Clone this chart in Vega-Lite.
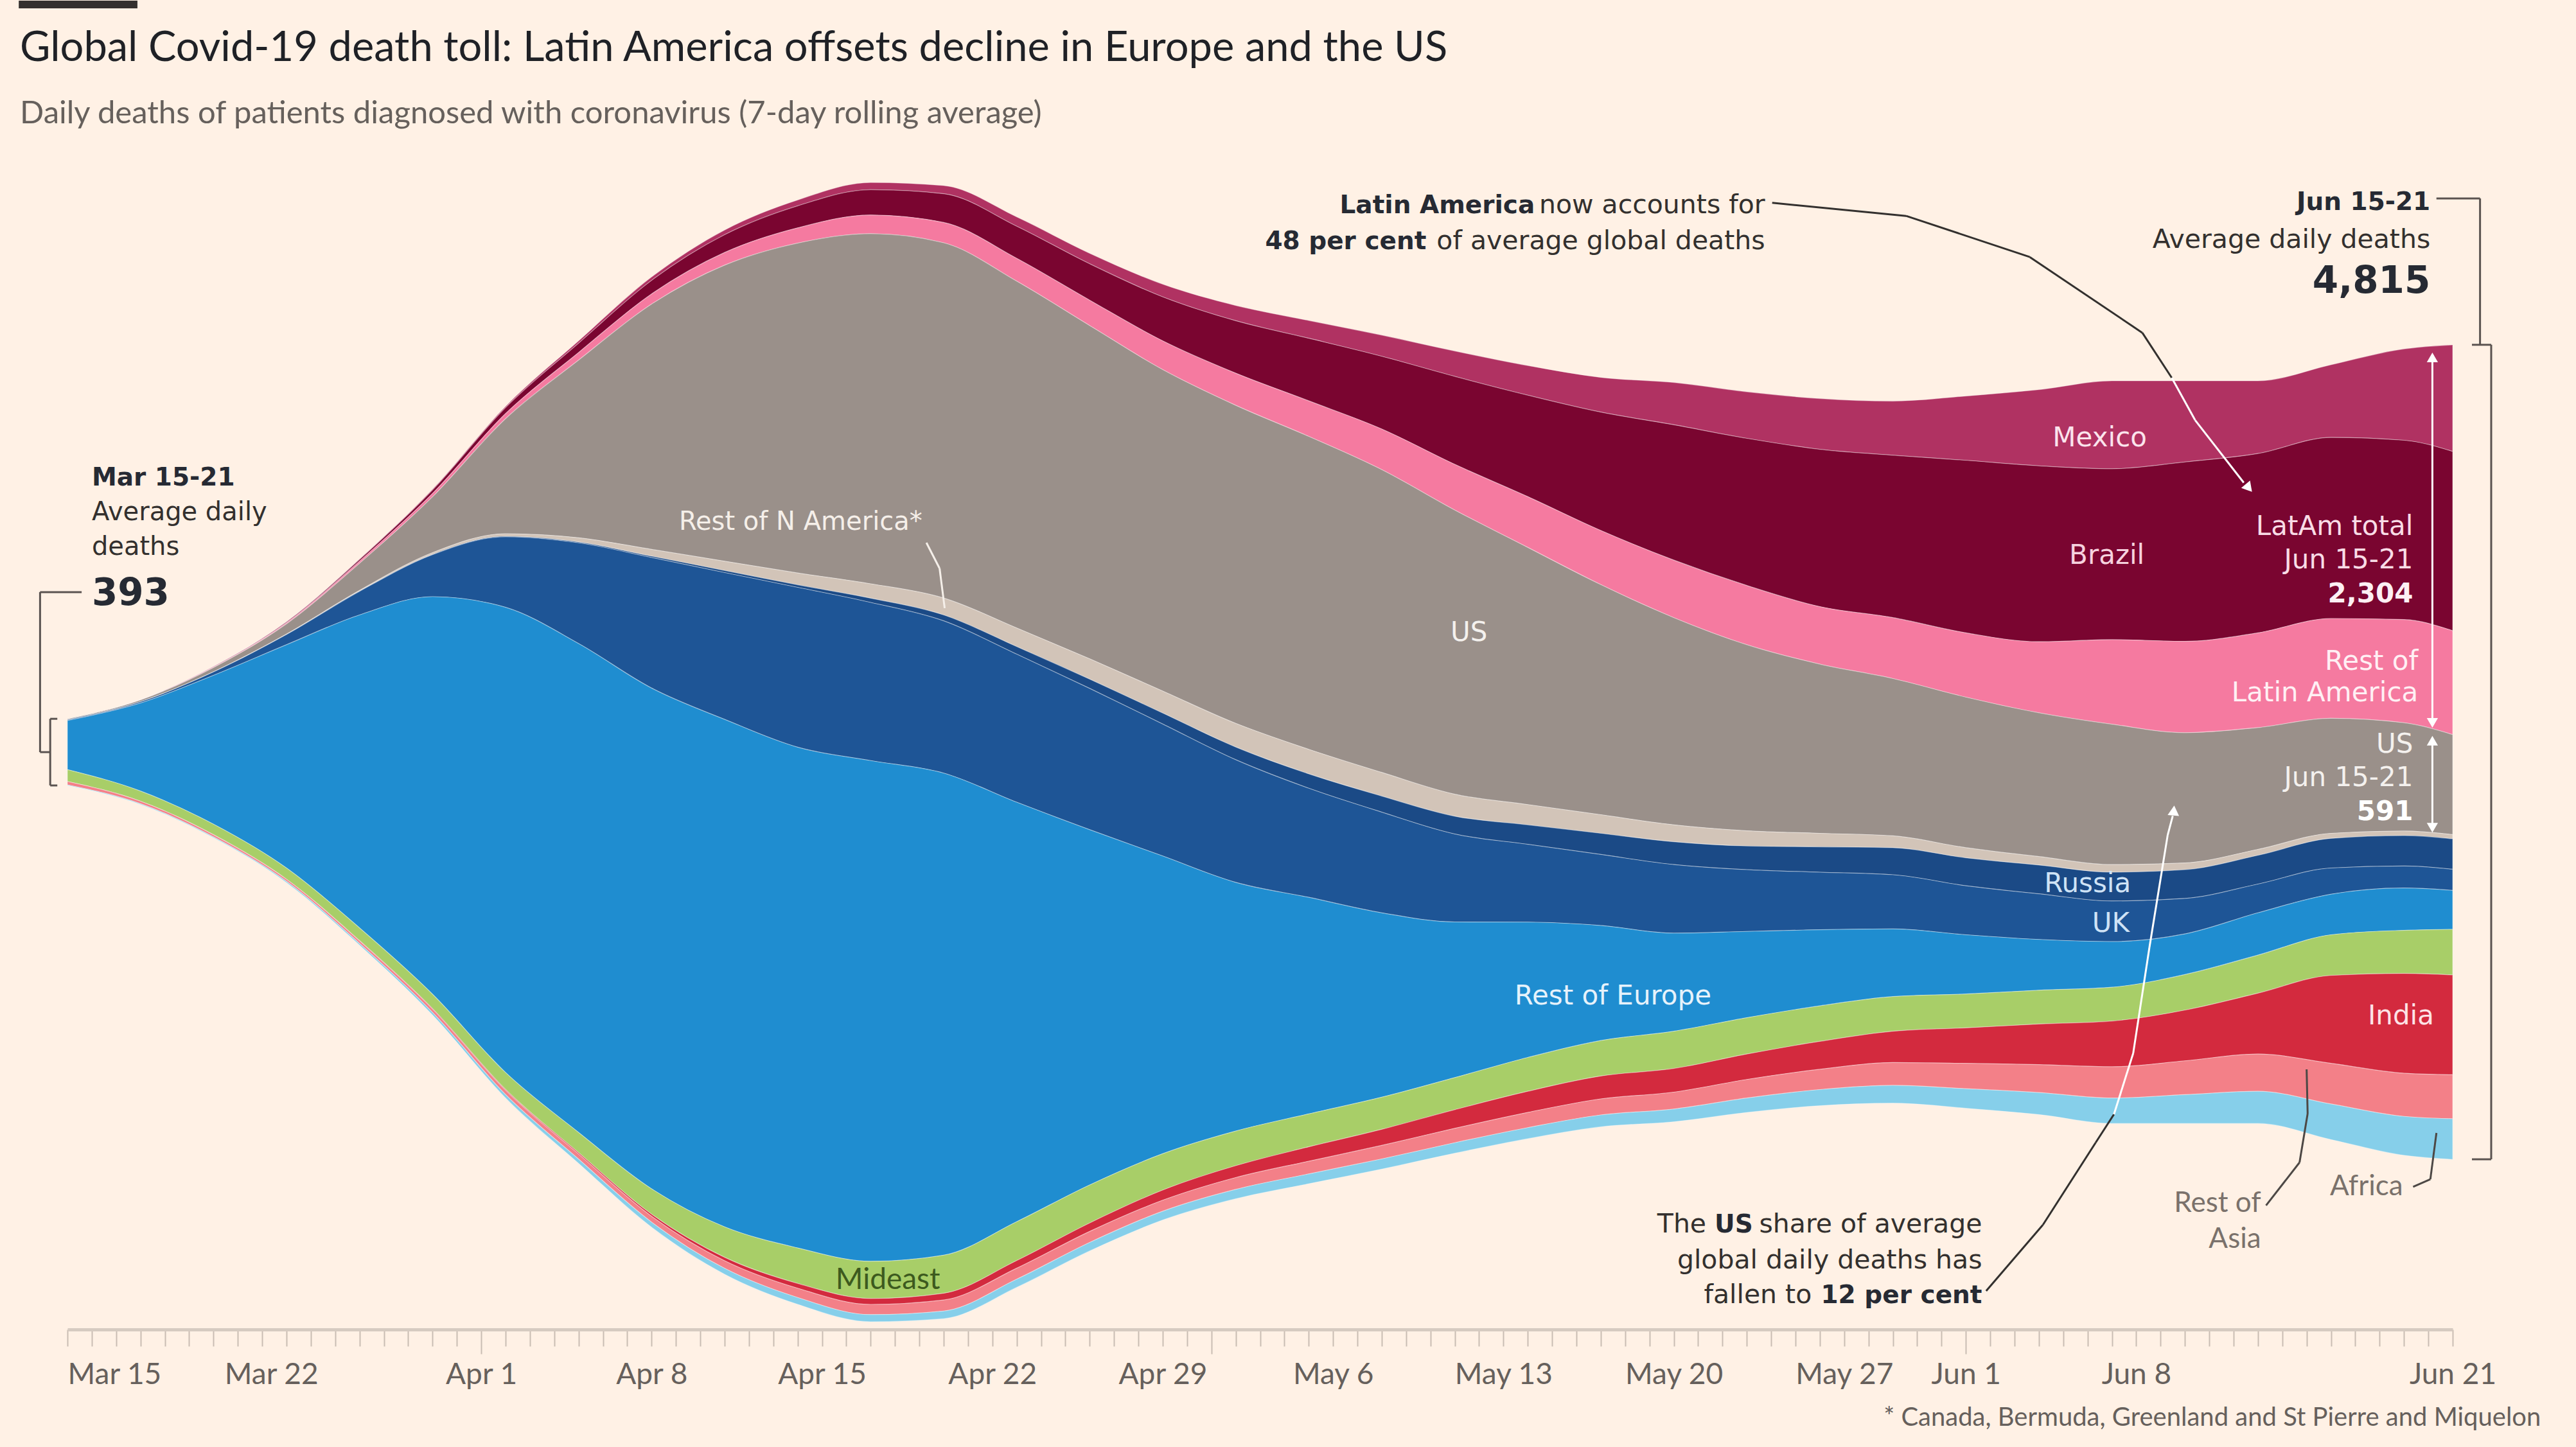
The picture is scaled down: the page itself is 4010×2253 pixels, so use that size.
{
"$schema": "https://vega.github.io/schema/vega-lite/v6.json",
"autosize": {"type": "none"},
"width": 3713,
"height": 1840,
"padding": {"left": 105, "top": 230, "right": 192, "bottom": 183},
"background": "#fff1e5",
"config": {"view": {"stroke": null}, "axisY": {"disable": true}},
"title": {"text": "Global Covid-19 death toll: Latin America offsets decline in Europe and the US", "subtitle": "Daily deaths of patients diagnosed with coronavirus (7-day rolling average)", "anchor": "start", "frame": "group", "dx": -74, "offset": -202, "font": "Lato", "fontSize": 65, "fontWeight": "normal", "color": "#1f2126", "subtitleFont": "Lato", "subtitleFontSize": 49, "subtitleColor": "#66605c", "subtitlePadding": 44},
"data": {"values": [
{"d":"2020-03-15","r":"Mexico","v":0},{"d":"2020-03-18","r":"Mexico","v":0},{"d":"2020-03-21","r":"Mexico","v":1},{"d":"2020-03-24","r":"Mexico","v":2},{"d":"2020-03-27","r":"Mexico","v":3},{"d":"2020-03-30","r":"Mexico","v":5},{"d":"2020-04-02","r":"Mexico","v":8},{"d":"2020-04-05","r":"Mexico","v":14},{"d":"2020-04-08","r":"Mexico","v":20},{"d":"2020-04-11","r":"Mexico","v":28},{"d":"2020-04-14","r":"Mexico","v":35},{"d":"2020-04-17","r":"Mexico","v":42},{"d":"2020-04-20","r":"Mexico","v":48},{"d":"2020-04-23","r":"Mexico","v":55},{"d":"2020-04-26","r":"Mexico","v":62},{"d":"2020-04-29","r":"Mexico","v":75},{"d":"2020-05-02","r":"Mexico","v":90},{"d":"2020-05-05","r":"Mexico","v":105},{"d":"2020-05-08","r":"Mexico","v":125},{"d":"2020-05-11","r":"Mexico","v":150},{"d":"2020-05-14","r":"Mexico","v":175},{"d":"2020-05-17","r":"Mexico","v":205},{"d":"2020-05-20","r":"Mexico","v":250},{"d":"2020-05-23","r":"Mexico","v":275},{"d":"2020-05-26","r":"Mexico","v":300},{"d":"2020-05-29","r":"Mexico","v":320},{"d":"2020-06-01","r":"Mexico","v":380},{"d":"2020-06-04","r":"Mexico","v":450},{"d":"2020-06-07","r":"Mexico","v":520},{"d":"2020-06-10","r":"Mexico","v":480},{"d":"2020-06-13","r":"Mexico","v":430},{"d":"2020-06-16","r":"Mexico","v":430},{"d":"2020-06-19","r":"Mexico","v":540},{"d":"2020-06-21","r":"Mexico","v":630},
{"d":"2020-03-15","r":"Brazil","v":0},{"d":"2020-03-18","r":"Brazil","v":0},{"d":"2020-03-21","r":"Brazil","v":2},{"d":"2020-03-24","r":"Brazil","v":5},{"d":"2020-03-27","r":"Brazil","v":10},{"d":"2020-03-30","r":"Brazil","v":20},{"d":"2020-04-02","r":"Brazil","v":35},{"d":"2020-04-05","r":"Brazil","v":55},{"d":"2020-04-08","r":"Brazil","v":80},{"d":"2020-04-11","r":"Brazil","v":105},{"d":"2020-04-14","r":"Brazil","v":130},{"d":"2020-04-17","r":"Brazil","v":150},{"d":"2020-04-20","r":"Brazil","v":170},{"d":"2020-04-23","r":"Brazil","v":190},{"d":"2020-04-26","r":"Brazil","v":215},{"d":"2020-04-29","r":"Brazil","v":260},{"d":"2020-05-02","r":"Brazil","v":310},{"d":"2020-05-05","r":"Brazil","v":370},{"d":"2020-05-08","r":"Brazil","v":430},{"d":"2020-05-11","r":"Brazil","v":520},{"d":"2020-05-14","r":"Brazil","v":600},{"d":"2020-05-17","r":"Brazil","v":700},{"d":"2020-05-20","r":"Brazil","v":800},{"d":"2020-05-23","r":"Brazil","v":870},{"d":"2020-05-26","r":"Brazil","v":930},{"d":"2020-05-29","r":"Brazil","v":960},{"d":"2020-06-01","r":"Brazil","v":1020},{"d":"2020-06-04","r":"Brazil","v":1040},{"d":"2020-06-07","r":"Brazil","v":1010},{"d":"2020-06-10","r":"Brazil","v":1060},{"d":"2020-06-13","r":"Brazil","v":1060},{"d":"2020-06-16","r":"Brazil","v":1070},{"d":"2020-06-19","r":"Brazil","v":1060},{"d":"2020-06-21","r":"Brazil","v":1060},
{"d":"2020-03-15","r":"Rest of Latin America","v":0},{"d":"2020-03-18","r":"Rest of Latin America","v":1},{"d":"2020-03-21","r":"Rest of Latin America","v":3},{"d":"2020-03-24","r":"Rest of Latin America","v":6},{"d":"2020-03-27","r":"Rest of Latin America","v":12},{"d":"2020-03-30","r":"Rest of Latin America","v":20},{"d":"2020-04-02","r":"Rest of Latin America","v":30},{"d":"2020-04-05","r":"Rest of Latin America","v":45},{"d":"2020-04-08","r":"Rest of Latin America","v":60},{"d":"2020-04-11","r":"Rest of Latin America","v":75},{"d":"2020-04-14","r":"Rest of Latin America","v":90},{"d":"2020-04-17","r":"Rest of Latin America","v":110},{"d":"2020-04-20","r":"Rest of Latin America","v":120},{"d":"2020-04-23","r":"Rest of Latin America","v":135},{"d":"2020-04-26","r":"Rest of Latin America","v":150},{"d":"2020-04-29","r":"Rest of Latin America","v":170},{"d":"2020-05-02","r":"Rest of Latin America","v":190},{"d":"2020-05-05","r":"Rest of Latin America","v":210},{"d":"2020-05-08","r":"Rest of Latin America","v":240},{"d":"2020-05-11","r":"Rest of Latin America","v":270},{"d":"2020-05-14","r":"Rest of Latin America","v":300},{"d":"2020-05-17","r":"Rest of Latin America","v":320},{"d":"2020-05-20","r":"Rest of Latin America","v":340},{"d":"2020-05-23","r":"Rest of Latin America","v":350},{"d":"2020-05-26","r":"Rest of Latin America","v":340},{"d":"2020-05-29","r":"Rest of Latin America","v":360},{"d":"2020-06-01","r":"Rest of Latin America","v":380},{"d":"2020-06-04","r":"Rest of Latin America","v":420},{"d":"2020-06-07","r":"Rest of Latin America","v":500},{"d":"2020-06-10","r":"Rest of Latin America","v":540},{"d":"2020-06-13","r":"Rest of Latin America","v":560},{"d":"2020-06-16","r":"Rest of Latin America","v":590},{"d":"2020-06-19","r":"Rest of Latin America","v":610},{"d":"2020-06-21","r":"Rest of Latin America","v":614},
{"d":"2020-03-15","r":"US","v":5},{"d":"2020-03-18","r":"US","v":10},{"d":"2020-03-21","r":"US","v":25},{"d":"2020-03-24","r":"US","v":60},{"d":"2020-03-27","r":"US","v":160},{"d":"2020-03-30","r":"US","v":330},{"d":"2020-04-02","r":"US","v":680},{"d":"2020-04-05","r":"US","v":1050},{"d":"2020-04-08","r":"US","v":1450},{"d":"2020-04-11","r":"US","v":1750},{"d":"2020-04-14","r":"US","v":1950},{"d":"2020-04-17","r":"US","v":2070},{"d":"2020-04-20","r":"US","v":2100},{"d":"2020-04-23","r":"US","v":2050},{"d":"2020-04-26","r":"US","v":1970},{"d":"2020-04-29","r":"US","v":1900},{"d":"2020-05-02","r":"US","v":1880},{"d":"2020-05-05","r":"US","v":1850},{"d":"2020-05-08","r":"US","v":1790},{"d":"2020-05-11","r":"US","v":1680},{"d":"2020-05-14","r":"US","v":1520},{"d":"2020-05-17","r":"US","v":1360},{"d":"2020-05-20","r":"US","v":1225},{"d":"2020-05-23","r":"US","v":1100},{"d":"2020-05-26","r":"US","v":1000},{"d":"2020-05-29","r":"US","v":930},{"d":"2020-06-01","r":"US","v":890},{"d":"2020-06-04","r":"US","v":850},{"d":"2020-06-07","r":"US","v":830},{"d":"2020-06-10","r":"US","v":770},{"d":"2020-06-13","r":"US","v":720},{"d":"2020-06-16","r":"US","v":680},{"d":"2020-06-19","r":"US","v":640},{"d":"2020-06-21","r":"US","v":591},
{"d":"2020-03-15","r":"Rest of N America","v":0},{"d":"2020-03-18","r":"Rest of N America","v":0},{"d":"2020-03-21","r":"Rest of N America","v":1},{"d":"2020-03-24","r":"Rest of N America","v":3},{"d":"2020-03-27","r":"Rest of N America","v":5},{"d":"2020-03-30","r":"Rest of N America","v":10},{"d":"2020-04-02","r":"Rest of N America","v":15},{"d":"2020-04-05","r":"Rest of N America","v":25},{"d":"2020-04-08","r":"Rest of N America","v":40},{"d":"2020-04-11","r":"Rest of N America","v":55},{"d":"2020-04-14","r":"Rest of N America","v":70},{"d":"2020-04-17","r":"Rest of N America","v":85},{"d":"2020-04-20","r":"Rest of N America","v":100},{"d":"2020-04-23","r":"Rest of N America","v":110},{"d":"2020-04-26","r":"Rest of N America","v":120},{"d":"2020-04-29","r":"Rest of N America","v":130},{"d":"2020-05-02","r":"Rest of N America","v":140},{"d":"2020-05-05","r":"Rest of N America","v":145},{"d":"2020-05-08","r":"Rest of N America","v":140},{"d":"2020-05-11","r":"Rest of N America","v":130},{"d":"2020-05-14","r":"Rest of N America","v":120},{"d":"2020-05-17","r":"Rest of N America","v":110},{"d":"2020-05-20","r":"Rest of N America","v":100},{"d":"2020-05-23","r":"Rest of N America","v":90},{"d":"2020-05-26","r":"Rest of N America","v":80},{"d":"2020-05-29","r":"Rest of N America","v":70},{"d":"2020-06-01","r":"Rest of N America","v":60},{"d":"2020-06-04","r":"Rest of N America","v":50},{"d":"2020-06-07","r":"Rest of N America","v":45},{"d":"2020-06-10","r":"Rest of N America","v":40},{"d":"2020-06-13","r":"Rest of N America","v":35},{"d":"2020-06-16","r":"Rest of N America","v":30},{"d":"2020-06-19","r":"Rest of N America","v":27},{"d":"2020-06-21","r":"Rest of N America","v":25},
{"d":"2020-03-15","r":"Russia","v":0},{"d":"2020-03-18","r":"Russia","v":0},{"d":"2020-03-21","r":"Russia","v":0},{"d":"2020-03-24","r":"Russia","v":0},{"d":"2020-03-27","r":"Russia","v":1},{"d":"2020-03-30","r":"Russia","v":2},{"d":"2020-04-02","r":"Russia","v":3},{"d":"2020-04-05","r":"Russia","v":5},{"d":"2020-04-08","r":"Russia","v":8},{"d":"2020-04-11","r":"Russia","v":12},{"d":"2020-04-14","r":"Russia","v":15},{"d":"2020-04-17","r":"Russia","v":25},{"d":"2020-04-20","r":"Russia","v":35},{"d":"2020-04-23","r":"Russia","v":45},{"d":"2020-04-26","r":"Russia","v":55},{"d":"2020-04-29","r":"Russia","v":65},{"d":"2020-05-02","r":"Russia","v":75},{"d":"2020-05-05","r":"Russia","v":85},{"d":"2020-05-08","r":"Russia","v":95},{"d":"2020-05-11","r":"Russia","v":105},{"d":"2020-05-14","r":"Russia","v":115},{"d":"2020-05-17","r":"Russia","v":125},{"d":"2020-05-20","r":"Russia","v":135},{"d":"2020-05-23","r":"Russia","v":140},{"d":"2020-05-26","r":"Russia","v":150},{"d":"2020-05-29","r":"Russia","v":160},{"d":"2020-06-01","r":"Russia","v":165},{"d":"2020-06-04","r":"Russia","v":170},{"d":"2020-06-07","r":"Russia","v":170},{"d":"2020-06-10","r":"Russia","v":170},{"d":"2020-06-13","r":"Russia","v":170},{"d":"2020-06-16","r":"Russia","v":175},{"d":"2020-06-19","r":"Russia","v":180},{"d":"2020-06-21","r":"Russia","v":180},
{"d":"2020-03-15","r":"UK","v":5},{"d":"2020-03-18","r":"UK","v":8},{"d":"2020-03-21","r":"UK","v":20},{"d":"2020-03-24","r":"UK","v":60},{"d":"2020-03-27","r":"UK","v":139},{"d":"2020-03-30","r":"UK","v":248},{"d":"2020-04-02","r":"UK","v":417},{"d":"2020-04-05","r":"UK","v":595},{"d":"2020-04-08","r":"UK","v":772},{"d":"2020-04-11","r":"UK","v":868},{"d":"2020-04-14","r":"UK","v":945},{"d":"2020-04-17","r":"UK","v":935},{"d":"2020-04-20","r":"UK","v":900},{"d":"2020-04-23","r":"UK","v":875},{"d":"2020-04-26","r":"UK","v":835},{"d":"2020-04-29","r":"UK","v":780},{"d":"2020-05-02","r":"UK","v":725},{"d":"2020-05-05","r":"UK","v":645},{"d":"2020-05-08","r":"UK","v":595},{"d":"2020-05-11","r":"UK","v":520},{"d":"2020-05-14","r":"UK","v":460},{"d":"2020-05-17","r":"UK","v":420},{"d":"2020-05-20","r":"UK","v":405},{"d":"2020-05-23","r":"UK","v":365},{"d":"2020-05-26","r":"UK","v":340},{"d":"2020-05-29","r":"UK","v":320},{"d":"2020-06-01","r":"UK","v":290},{"d":"2020-06-04","r":"UK","v":270},{"d":"2020-06-07","r":"UK","v":240},{"d":"2020-06-10","r":"UK","v":210},{"d":"2020-06-13","r":"UK","v":170},{"d":"2020-06-16","r":"UK","v":155},{"d":"2020-06-19","r":"UK","v":130},{"d":"2020-06-21","r":"UK","v":125},
{"d":"2020-03-15","r":"Rest of Europe","v":290},{"d":"2020-03-18","r":"Rest of Europe","v":520},{"d":"2020-03-21","r":"Rest of Europe","v":880},{"d":"2020-03-24","r":"Rest of Europe","v":1320},{"d":"2020-03-27","r":"Rest of Europe","v":1850},{"d":"2020-03-30","r":"Rest of Europe","v":2350},{"d":"2020-04-02","r":"Rest of Europe","v":2750},{"d":"2020-04-05","r":"Rest of Europe","v":2890},{"d":"2020-04-08","r":"Rest of Europe","v":2960},{"d":"2020-04-11","r":"Rest of Europe","v":3000},{"d":"2020-04-14","r":"Rest of Europe","v":2960},{"d":"2020-04-17","r":"Rest of Europe","v":2960},{"d":"2020-04-20","r":"Rest of Europe","v":2850},{"d":"2020-04-23","r":"Rest of Europe","v":2480},{"d":"2020-04-26","r":"Rest of Europe","v":2100},{"d":"2020-04-29","r":"Rest of Europe","v":1760},{"d":"2020-05-02","r":"Rest of Europe","v":1470},{"d":"2020-05-05","r":"Rest of Europe","v":1280},{"d":"2020-05-08","r":"Rest of Europe","v":1090},{"d":"2020-05-11","r":"Rest of Europe","v":920},{"d":"2020-05-14","r":"Rest of Europe","v":800},{"d":"2020-05-17","r":"Rest of Europe","v":680},{"d":"2020-05-20","r":"Rest of Europe","v":580},{"d":"2020-05-23","r":"Rest of Europe","v":510},{"d":"2020-05-26","r":"Rest of Europe","v":450},{"d":"2020-05-29","r":"Rest of Europe","v":400},{"d":"2020-06-01","r":"Rest of Europe","v":350},{"d":"2020-06-04","r":"Rest of Europe","v":300},{"d":"2020-06-07","r":"Rest of Europe","v":270},{"d":"2020-06-10","r":"Rest of Europe","v":240},{"d":"2020-06-13","r":"Rest of Europe","v":250},{"d":"2020-06-16","r":"Rest of Europe","v":240},{"d":"2020-06-19","r":"Rest of Europe","v":250},{"d":"2020-06-21","r":"Rest of Europe","v":230},
{"d":"2020-03-15","r":"Mideast","v":70},{"d":"2020-03-18","r":"Mideast","v":60},{"d":"2020-03-21","r":"Mideast","v":62},{"d":"2020-03-24","r":"Mideast","v":66},{"d":"2020-03-27","r":"Mideast","v":75},{"d":"2020-03-30","r":"Mideast","v":85},{"d":"2020-04-02","r":"Mideast","v":100},{"d":"2020-04-05","r":"Mideast","v":120},{"d":"2020-04-08","r":"Mideast","v":150},{"d":"2020-04-11","r":"Mideast","v":180},{"d":"2020-04-14","r":"Mideast","v":210},{"d":"2020-04-17","r":"Mideast","v":220},{"d":"2020-04-20","r":"Mideast","v":225},{"d":"2020-04-23","r":"Mideast","v":230},{"d":"2020-04-26","r":"Mideast","v":225},{"d":"2020-04-29","r":"Mideast","v":215},{"d":"2020-05-02","r":"Mideast","v":205},{"d":"2020-05-05","r":"Mideast","v":195},{"d":"2020-05-08","r":"Mideast","v":190},{"d":"2020-05-11","r":"Mideast","v":190},{"d":"2020-05-14","r":"Mideast","v":200},{"d":"2020-05-17","r":"Mideast","v":210},{"d":"2020-05-20","r":"Mideast","v":220},{"d":"2020-05-23","r":"Mideast","v":215},{"d":"2020-05-26","r":"Mideast","v":210},{"d":"2020-05-29","r":"Mideast","v":205},{"d":"2020-06-01","r":"Mideast","v":200},{"d":"2020-06-04","r":"Mideast","v":200},{"d":"2020-06-07","r":"Mideast","v":200},{"d":"2020-06-10","r":"Mideast","v":210},{"d":"2020-06-13","r":"Mideast","v":225},{"d":"2020-06-16","r":"Mideast","v":240},{"d":"2020-06-19","r":"Mideast","v":255},{"d":"2020-06-21","r":"Mideast","v":270},
{"d":"2020-03-15","r":"India","v":0},{"d":"2020-03-18","r":"India","v":0},{"d":"2020-03-21","r":"India","v":1},{"d":"2020-03-24","r":"India","v":1},{"d":"2020-03-27","r":"India","v":2},{"d":"2020-03-30","r":"India","v":3},{"d":"2020-04-02","r":"India","v":5},{"d":"2020-04-05","r":"India","v":8},{"d":"2020-04-08","r":"India","v":12},{"d":"2020-04-11","r":"India","v":20},{"d":"2020-04-14","r":"India","v":28},{"d":"2020-04-17","r":"India","v":35},{"d":"2020-04-20","r":"India","v":40},{"d":"2020-04-23","r":"India","v":45},{"d":"2020-04-26","r":"India","v":50},{"d":"2020-04-29","r":"India","v":60},{"d":"2020-05-02","r":"India","v":70},{"d":"2020-05-05","r":"India","v":85},{"d":"2020-05-08","r":"India","v":95},{"d":"2020-05-11","r":"India","v":110},{"d":"2020-05-14","r":"India","v":125},{"d":"2020-05-17","r":"India","v":135},{"d":"2020-05-20","r":"India","v":140},{"d":"2020-05-23","r":"India","v":150},{"d":"2020-05-26","r":"India","v":165},{"d":"2020-05-29","r":"India","v":185},{"d":"2020-06-01","r":"India","v":210},{"d":"2020-06-04","r":"India","v":240},{"d":"2020-06-07","r":"India","v":270},{"d":"2020-06-10","r":"India","v":300},{"d":"2020-06-13","r":"India","v":360},{"d":"2020-06-16","r":"India","v":520},{"d":"2020-06-19","r":"India","v":590},{"d":"2020-06-21","r":"India","v":590},
{"d":"2020-03-15","r":"Rest of Asia","v":20},{"d":"2020-03-18","r":"Rest of Asia","v":15},{"d":"2020-03-21","r":"Rest of Asia","v":12},{"d":"2020-03-24","r":"Rest of Asia","v":12},{"d":"2020-03-27","r":"Rest of Asia","v":15},{"d":"2020-03-30","r":"Rest of Asia","v":20},{"d":"2020-04-02","r":"Rest of Asia","v":25},{"d":"2020-04-05","r":"Rest of Asia","v":30},{"d":"2020-04-08","r":"Rest of Asia","v":35},{"d":"2020-04-11","r":"Rest of Asia","v":45},{"d":"2020-04-14","r":"Rest of Asia","v":55},{"d":"2020-04-17","r":"Rest of Asia","v":60},{"d":"2020-04-20","r":"Rest of Asia","v":65},{"d":"2020-04-23","r":"Rest of Asia","v":65},{"d":"2020-04-26","r":"Rest of Asia","v":65},{"d":"2020-04-29","r":"Rest of Asia","v":65},{"d":"2020-05-02","r":"Rest of Asia","v":70},{"d":"2020-05-05","r":"Rest of Asia","v":75},{"d":"2020-05-08","r":"Rest of Asia","v":80},{"d":"2020-05-11","r":"Rest of Asia","v":85},{"d":"2020-05-14","r":"Rest of Asia","v":90},{"d":"2020-05-17","r":"Rest of Asia","v":95},{"d":"2020-05-20","r":"Rest of Asia","v":100},{"d":"2020-05-23","r":"Rest of Asia","v":110},{"d":"2020-05-26","r":"Rest of Asia","v":120},{"d":"2020-05-29","r":"Rest of Asia","v":135},{"d":"2020-06-01","r":"Rest of Asia","v":150},{"d":"2020-06-04","r":"Rest of Asia","v":165},{"d":"2020-06-07","r":"Rest of Asia","v":185},{"d":"2020-06-10","r":"Rest of Asia","v":200},{"d":"2020-06-13","r":"Rest of Asia","v":220},{"d":"2020-06-16","r":"Rest of Asia","v":240},{"d":"2020-06-19","r":"Rest of Asia","v":255},{"d":"2020-06-21","r":"Rest of Asia","v":260},
{"d":"2020-03-15","r":"Africa","v":3},{"d":"2020-03-18","r":"Africa","v":4},{"d":"2020-03-21","r":"Africa","v":5},{"d":"2020-03-24","r":"Africa","v":7},{"d":"2020-03-27","r":"Africa","v":10},{"d":"2020-03-30","r":"Africa","v":15},{"d":"2020-04-02","r":"Africa","v":20},{"d":"2020-04-05","r":"Africa","v":25},{"d":"2020-04-08","r":"Africa","v":30},{"d":"2020-04-11","r":"Africa","v":35},{"d":"2020-04-14","r":"Africa","v":40},{"d":"2020-04-17","r":"Africa","v":42},{"d":"2020-04-20","r":"Africa","v":45},{"d":"2020-04-23","r":"Africa","v":48},{"d":"2020-04-26","r":"Africa","v":50},{"d":"2020-04-29","r":"Africa","v":52},{"d":"2020-05-02","r":"Africa","v":55},{"d":"2020-05-05","r":"Africa","v":58},{"d":"2020-05-08","r":"Africa","v":60},{"d":"2020-05-11","r":"Africa","v":62},{"d":"2020-05-14","r":"Africa","v":65},{"d":"2020-05-17","r":"Africa","v":70},{"d":"2020-05-20","r":"Africa","v":75},{"d":"2020-05-23","r":"Africa","v":85},{"d":"2020-05-26","r":"Africa","v":95},{"d":"2020-05-29","r":"Africa","v":105},{"d":"2020-06-01","r":"Africa","v":115},{"d":"2020-06-04","r":"Africa","v":130},{"d":"2020-06-07","r":"Africa","v":150},{"d":"2020-06-10","r":"Africa","v":170},{"d":"2020-06-13","r":"Africa","v":190},{"d":"2020-06-16","r":"Africa","v":210},{"d":"2020-06-19","r":"Africa","v":230},{"d":"2020-06-21","r":"Africa","v":240}
]},
"layer": [
{"transform": [{"lookup": "r", "from": {"data": {"values": [{"r":"Africa","o":1},{"r":"Rest of Asia","o":2},{"r":"India","o":3},{"r":"Mideast","o":4},{"r":"Rest of Europe","o":5},{"r":"UK","o":6},{"r":"Russia","o":7},{"r":"Rest of N America","o":8},{"r":"US","o":9},{"r":"Rest of Latin America","o":10},{"r":"Brazil","o":11},{"r":"Mexico","o":12}]}, "key": "r", "fields": ["o"]}}],
 "mark": {"type": "area", "interpolate": "monotone", "stroke": "#ffffff", "strokeWidth": 1.2, "strokeOpacity": 0.35},
 "encoding": {
  "x": {"field": "d", "type": "temporal", "scale": {"type": "utc", "domain": [{"year":2020,"month":3,"date":15,"utc":true},{"year":2020,"month":6,"date":21,"utc":true}]},
        "axis": {"title": null, "grid": false, "tickCount": {"interval": "day", "step": 1}, "labelOverlap": false,
                 "labelExpr": "indexof(['3-15','3-22','4-1','4-8','4-15','4-22','4-29','5-6','5-13','5-20','5-27','6-1','6-8','6-21'], utcFormat(datum.value, '%-m-%-d')) >= 0 ? utcFormat(datum.value, '%b %-d') : ''",
                 "labelFont": "Lato", "labelFontSize": 46, "labelColor": "#66605c",
                 "labelPadding": {"condition": {"test": "utcdate(datum.value) == 1", "value": 10}, "value": 22},
                 "labelAlign": {"condition": {"test": "utcmonth(datum.value) == 2 && utcdate(datum.value) == 15", "value": "left"}, "value": "center"},
                 "labelOffset": {"condition": {"test": "utcmonth(datum.value) == 2 && utcdate(datum.value) == 22", "value": 52}, "value": 0},
                 "domainColor": "#d6cbc1", "domainWidth": 5, "tickColor": "#c9bdb3", "tickWidth": 2,
                 "tickSize": {"condition": {"test": "utcdate(datum.value) == 1", "value": 38}, "value": 26}}},
  "y": {"field": "v", "type": "quantitative", "stack": "center", "scale": {"domain": [-46, 6940], "nice": false, "zero": false}, "axis": null},
  "color": {"field": "r", "type": "nominal", "legend": null, "scale": {"domain": ["Mexico","Brazil","Rest of Latin America","US","Rest of N America","Russia","UK","Rest of Europe","Mideast","India","Rest of Asia","Africa"], "range": ["#b03262","#7a0530","#f57aa0","#9a908a","#d2c4b8","#1b4a86","#1e5596","#1f8dd0","#a8ce68","#d32a3e","#f38088","#86cfea"]}},
  "order": {"field": "o", "type": "quantitative"}
 }},
{"data":{"values":[{}]},"mark":{"type":"rule","color":"#33302e","strokeWidth":12},"encoding":{"x":{"datum":{"year":2020,"month":3,"date":15,"hours":-48,"utc":true},"type":"temporal"},"x2":{"datum":{"year":2020,"month":3,"date":15,"hours":69,"utc":true}},"y":{"datum":7787,"type":"quantitative"}}},
{"data":{"values":[{}]},"mark":{"type":"rule","color":"#5a5350","strokeWidth":3},"encoding":{"x":{"datum":{"year":2020,"month":3,"date":15,"hours":-27,"utc":true},"type":"temporal"},"x2":{"datum":{"year":2020,"month":3,"date":15,"hours":14,"utc":true}},"y":{"datum":4313,"type":"quantitative"}}},
{"data":{"values":[{}]},"mark":{"type":"rule","color":"#5a5350","strokeWidth":3},"encoding":{"x":{"datum":{"year":2020,"month":3,"date":15,"hours":-27,"utc":true},"type":"temporal"},"y":{"datum":4313,"type":"quantitative"},"y2":{"datum":3367}}},
{"data":{"values":[{}]},"mark":{"type":"rule","color":"#5a5350","strokeWidth":3},"encoding":{"x":{"datum":{"year":2020,"month":3,"date":15,"hours":-27,"utc":true},"type":"temporal"},"x2":{"datum":{"year":2020,"month":3,"date":15,"hours":-17,"utc":true}},"y":{"datum":3367,"type":"quantitative"}}},
{"data":{"values":[{}]},"mark":{"type":"rule","color":"#5a5350","strokeWidth":3},"encoding":{"x":{"datum":{"year":2020,"month":3,"date":15,"hours":-17,"utc":true},"type":"temporal"},"y":{"datum":3564,"type":"quantitative"},"y2":{"datum":3170}}},
{"data":{"values":[{}]},"mark":{"type":"rule","color":"#5a5350","strokeWidth":3},"encoding":{"x":{"datum":{"year":2020,"month":3,"date":15,"hours":-17,"utc":true},"type":"temporal"},"x2":{"datum":{"year":2020,"month":3,"date":15,"hours":-10,"utc":true}},"y":{"datum":3564,"type":"quantitative"}}},
{"data":{"values":[{}]},"mark":{"type":"rule","color":"#5a5350","strokeWidth":3},"encoding":{"x":{"datum":{"year":2020,"month":3,"date":15,"hours":-17,"utc":true},"type":"temporal"},"x2":{"datum":{"year":2020,"month":3,"date":15,"hours":-10,"utc":true}},"y":{"datum":3170,"type":"quantitative"}}},
{"data":{"values":[{}]},"mark":{"type":"rule","color":"#5a5350","strokeWidth":3},"encoding":{"x":{"datum":{"year":2020,"month":3,"date":15,"hours":2336,"utc":true},"type":"temporal"},"x2":{"datum":{"year":2020,"month":3,"date":15,"hours":2379,"utc":true}},"y":{"datum":6640,"type":"quantitative"}}},
{"data":{"values":[{}]},"mark":{"type":"rule","color":"#5a5350","strokeWidth":3},"encoding":{"x":{"datum":{"year":2020,"month":3,"date":15,"hours":2379,"utc":true},"type":"temporal"},"y":{"datum":6640,"type":"quantitative"},"y2":{"datum":5775}}},
{"data":{"values":[{}]},"mark":{"type":"rule","color":"#5a5350","strokeWidth":3},"encoding":{"x":{"datum":{"year":2020,"month":3,"date":15,"hours":2390,"utc":true},"type":"temporal"},"y":{"datum":5775,"type":"quantitative"},"y2":{"datum":960}}},
{"data":{"values":[{}]},"mark":{"type":"rule","color":"#5a5350","strokeWidth":3},"encoding":{"x":{"datum":{"year":2020,"month":3,"date":15,"hours":2371,"utc":true},"type":"temporal"},"x2":{"datum":{"year":2020,"month":3,"date":15,"hours":2390,"utc":true}},"y":{"datum":5775,"type":"quantitative"}}},
{"data":{"values":[{}]},"mark":{"type":"rule","color":"#5a5350","strokeWidth":3},"encoding":{"x":{"datum":{"year":2020,"month":3,"date":15,"hours":2371,"utc":true},"type":"temporal"},"x2":{"datum":{"year":2020,"month":3,"date":15,"hours":2390,"utc":true}},"y":{"datum":960,"type":"quantitative"}}},
{"data":{"values":[{}]},"mark":{"type":"rule","color":"#ffffff","strokeWidth":3},"encoding":{"x":{"datum":{"year":2020,"month":3,"date":15,"hours":2332,"utc":true},"type":"temporal"},"y":{"datum":5690,"type":"quantitative"},"y2":{"datum":3550}}},
{"data":{"values":[{}]},"mark":{"type":"point","shape":"triangle-up","filled":true,"size":300,"color":"#ffffff","opacity":1},"encoding":{"x":{"datum":{"year":2020,"month":3,"date":15,"hours":2332,"utc":true},"type":"temporal"},"y":{"datum":5700,"type":"quantitative"}}},
{"data":{"values":[{}]},"mark":{"type":"point","shape":"triangle-down","filled":true,"size":300,"color":"#ffffff","opacity":1},"encoding":{"x":{"datum":{"year":2020,"month":3,"date":15,"hours":2332,"utc":true},"type":"temporal"},"y":{"datum":3540,"type":"quantitative"}}},
{"data":{"values":[{}]},"mark":{"type":"rule","color":"#ffffff","strokeWidth":3},"encoding":{"x":{"datum":{"year":2020,"month":3,"date":15,"hours":2332,"utc":true},"type":"temporal"},"y":{"datum":3425,"type":"quantitative"},"y2":{"datum":2930}}},
{"data":{"values":[{}]},"mark":{"type":"point","shape":"triangle-up","filled":true,"size":300,"color":"#ffffff","opacity":1},"encoding":{"x":{"datum":{"year":2020,"month":3,"date":15,"hours":2332,"utc":true},"type":"temporal"},"y":{"datum":3435,"type":"quantitative"}}},
{"data":{"values":[{}]},"mark":{"type":"point","shape":"triangle-down","filled":true,"size":300,"color":"#ffffff","opacity":1},"encoding":{"x":{"datum":{"year":2020,"month":3,"date":15,"hours":2332,"utc":true},"type":"temporal"},"y":{"datum":2920,"type":"quantitative"}}},
{"data":{"values":[{}]},"mark":{"type":"rule","color":"#33302e","strokeWidth":3},"encoding":{"x":{"datum":{"year":2020,"month":3,"date":15,"hours":1681,"utc":true},"type":"temporal"},"x2":{"datum":{"year":2020,"month":3,"date":15,"hours":1813,"utc":true}},"y":{"datum":6614,"type":"quantitative"},"y2":{"datum":6537}}},
{"data":{"values":[{}]},"mark":{"type":"rule","color":"#33302e","strokeWidth":3},"encoding":{"x":{"datum":{"year":2020,"month":3,"date":15,"hours":1813,"utc":true},"type":"temporal"},"x2":{"datum":{"year":2020,"month":3,"date":15,"hours":1935,"utc":true}},"y":{"datum":6537,"type":"quantitative"},"y2":{"datum":6294}}},
{"data":{"values":[{}]},"mark":{"type":"rule","color":"#33302e","strokeWidth":3},"encoding":{"x":{"datum":{"year":2020,"month":3,"date":15,"hours":1935,"utc":true},"type":"temporal"},"x2":{"datum":{"year":2020,"month":3,"date":15,"hours":2046,"utc":true}},"y":{"datum":6294,"type":"quantitative"},"y2":{"datum":5846}}},
{"data":{"values":[{}]},"mark":{"type":"rule","color":"#33302e","strokeWidth":3},"encoding":{"x":{"datum":{"year":2020,"month":3,"date":15,"hours":2046,"utc":true},"type":"temporal"},"x2":{"datum":{"year":2020,"month":3,"date":15,"hours":2075,"utc":true}},"y":{"datum":5846,"type":"quantitative"},"y2":{"datum":5580}}},
{"data":{"values":[{}]},"mark":{"type":"rule","color":"#ffffff","strokeWidth":3},"encoding":{"x":{"datum":{"year":2020,"month":3,"date":15,"hours":2075,"utc":true},"type":"temporal"},"x2":{"datum":{"year":2020,"month":3,"date":15,"hours":2098,"utc":true}},"y":{"datum":5580,"type":"quantitative"},"y2":{"datum":5330}}},
{"data":{"values":[{}]},"mark":{"type":"rule","color":"#ffffff","strokeWidth":3},"encoding":{"x":{"datum":{"year":2020,"month":3,"date":15,"hours":2098,"utc":true},"type":"temporal"},"x2":{"datum":{"year":2020,"month":3,"date":15,"hours":2146,"utc":true}},"y":{"datum":5330,"type":"quantitative"},"y2":{"datum":4960}}},
{"data":{"values":[{}]},"mark":{"type":"point","shape":"triangle-right","filled":true,"size":320,"angle":50,"color":"#ffffff","opacity":1},"encoding":{"x":{"datum":{"year":2020,"month":3,"date":15,"hours":2151,"utc":true},"type":"temporal"},"y":{"datum":4928,"type":"quantitative"}}},
{"data":{"values":[{}]},"mark":{"type":"rule","color":"#33302e","strokeWidth":3},"encoding":{"x":{"datum":{"year":2020,"month":3,"date":15,"hours":1892,"utc":true},"type":"temporal"},"x2":{"datum":{"year":2020,"month":3,"date":15,"hours":1948,"utc":true}},"y":{"datum":182,"type":"quantitative"},"y2":{"datum":573}}},
{"data":{"values":[{}]},"mark":{"type":"rule","color":"#33302e","strokeWidth":3},"encoding":{"x":{"datum":{"year":2020,"month":3,"date":15,"hours":1948,"utc":true},"type":"temporal"},"x2":{"datum":{"year":2020,"month":3,"date":15,"hours":2000,"utc":true}},"y":{"datum":573,"type":"quantitative"},"y2":{"datum":1059}}},
{"data":{"values":[{}]},"mark":{"type":"rule","color":"#33302e","strokeWidth":3},"encoding":{"x":{"datum":{"year":2020,"month":3,"date":15,"hours":2000,"utc":true},"type":"temporal"},"x2":{"datum":{"year":2020,"month":3,"date":15,"hours":2018,"utc":true}},"y":{"datum":1059,"type":"quantitative"},"y2":{"datum":1226}}},
{"data":{"values":[{}]},"mark":{"type":"rule","color":"#ffffff","strokeWidth":3},"encoding":{"x":{"datum":{"year":2020,"month":3,"date":15,"hours":2018,"utc":true},"type":"temporal"},"x2":{"datum":{"year":2020,"month":3,"date":15,"hours":2037,"utc":true}},"y":{"datum":1226,"type":"quantitative"},"y2":{"datum":1587}}},
{"data":{"values":[{}]},"mark":{"type":"rule","color":"#ffffff","strokeWidth":3},"encoding":{"x":{"datum":{"year":2020,"month":3,"date":15,"hours":2037,"utc":true},"type":"temporal"},"x2":{"datum":{"year":2020,"month":3,"date":15,"hours":2053,"utc":true}},"y":{"datum":1587,"type":"quantitative"},"y2":{"datum":2213}}},
{"data":{"values":[{}]},"mark":{"type":"rule","color":"#ffffff","strokeWidth":3},"encoding":{"x":{"datum":{"year":2020,"month":3,"date":15,"hours":2053,"utc":true},"type":"temporal"},"x2":{"datum":{"year":2020,"month":3,"date":15,"hours":2071,"utc":true}},"y":{"datum":2213,"type":"quantitative"},"y2":{"datum":2877}}},
{"data":{"values":[{}]},"mark":{"type":"rule","color":"#ffffff","strokeWidth":3},"encoding":{"x":{"datum":{"year":2020,"month":3,"date":15,"hours":2071,"utc":true},"type":"temporal"},"x2":{"datum":{"year":2020,"month":3,"date":15,"hours":2076,"utc":true}},"y":{"datum":2877,"type":"quantitative"},"y2":{"datum":2990}}},
{"data":{"values":[{}]},"mark":{"type":"point","shape":"triangle-up","filled":true,"size":320,"angle":5,"color":"#ffffff","opacity":1},"encoding":{"x":{"datum":{"year":2020,"month":3,"date":15,"hours":2077,"utc":true},"type":"temporal"},"y":{"datum":3022,"type":"quantitative"}}},
{"data":{"values":[{}]},"mark":{"type":"rule","color":"#f5efe9","strokeWidth":3},"encoding":{"x":{"datum":{"year":2020,"month":3,"date":15,"hours":847,"utc":true},"type":"temporal"},"x2":{"datum":{"year":2020,"month":3,"date":15,"hours":860,"utc":true}},"y":{"datum":4605,"type":"quantitative"},"y2":{"datum":4453}}},
{"data":{"values":[{}]},"mark":{"type":"rule","color":"#f5efe9","strokeWidth":3},"encoding":{"x":{"datum":{"year":2020,"month":3,"date":15,"hours":860,"utc":true},"type":"temporal"},"x2":{"datum":{"year":2020,"month":3,"date":15,"hours":865,"utc":true}},"y":{"datum":4453,"type":"quantitative"},"y2":{"datum":4218}}},
{"data":{"values":[{}]},"mark":{"type":"rule","color":"#4d4845","strokeWidth":3},"encoding":{"x":{"datum":{"year":2020,"month":3,"date":15,"hours":2168,"utc":true},"type":"temporal"},"x2":{"datum":{"year":2020,"month":3,"date":15,"hours":2201,"utc":true}},"y":{"datum":687,"type":"quantitative"},"y2":{"datum":941}}},
{"data":{"values":[{}]},"mark":{"type":"rule","color":"#4d4845","strokeWidth":3},"encoding":{"x":{"datum":{"year":2020,"month":3,"date":15,"hours":2201,"utc":true},"type":"temporal"},"x2":{"datum":{"year":2020,"month":3,"date":15,"hours":2209,"utc":true}},"y":{"datum":941,"type":"quantitative"},"y2":{"datum":1230}}},
{"data":{"values":[{}]},"mark":{"type":"rule","color":"#4d4845","strokeWidth":3},"encoding":{"x":{"datum":{"year":2020,"month":3,"date":15,"hours":2209,"utc":true},"type":"temporal"},"x2":{"datum":{"year":2020,"month":3,"date":15,"hours":2208,"utc":true}},"y":{"datum":1230,"type":"quantitative"},"y2":{"datum":1492}}},
{"data":{"values":[{}]},"mark":{"type":"rule","color":"#4d4845","strokeWidth":3},"encoding":{"x":{"datum":{"year":2020,"month":3,"date":15,"hours":2313,"utc":true},"type":"temporal"},"x2":{"datum":{"year":2020,"month":3,"date":15,"hours":2330,"utc":true}},"y":{"datum":797,"type":"quantitative"},"y2":{"datum":842}}},
{"data":{"values":[{}]},"mark":{"type":"rule","color":"#4d4845","strokeWidth":3},"encoding":{"x":{"datum":{"year":2020,"month":3,"date":15,"hours":2330,"utc":true},"type":"temporal"},"x2":{"datum":{"year":2020,"month":3,"date":15,"hours":2336,"utc":true}},"y":{"datum":842,"type":"quantitative"},"y2":{"datum":1116}}},
{"data":{"values":[{}]},"mark":{"type":"text","text":"Mar 15-21","font":"DejaVu Sans","fontSize":39,"fontWeight":"bold","align":"left","baseline":"alphabetic","color":"#262a33"},"encoding":{"x":{"datum":{"year":2020,"month":3,"date":15,"hours":24,"utc":true},"type":"temporal"},"y":{"datum":4943,"type":"quantitative"}}},
{"data":{"values":[{}]},"mark":{"type":"text","text":["Average daily","deaths"],"lineHeight":54,"font":"DejaVu Sans","fontSize":40,"align":"left","baseline":"alphabetic","color":"#33302e"},"encoding":{"x":{"datum":{"year":2020,"month":3,"date":15,"hours":24,"utc":true},"type":"temporal"},"y":{"datum":4738,"type":"quantitative"}}},
{"data":{"values":[{}]},"mark":{"type":"text","text":"393","font":"DejaVu Sans","fontSize":58,"fontWeight":"bold","align":"left","baseline":"alphabetic","color":"#262a33"},"encoding":{"x":{"datum":{"year":2020,"month":3,"date":15,"hours":24,"utc":true},"type":"temporal"},"y":{"datum":4237,"type":"quantitative"}}},
{"data":{"values":[{}]},"mark":{"type":"text","text":"Jun 15-21","font":"DejaVu Sans","fontSize":39,"fontWeight":"bold","align":"right","baseline":"alphabetic","color":"#262a33"},"encoding":{"x":{"datum":{"year":2020,"month":3,"date":15,"hours":2330,"utc":true},"type":"temporal"},"y":{"datum":6572,"type":"quantitative"}}},
{"data":{"values":[{}]},"mark":{"type":"text","text":"Average daily deaths","font":"DejaVu Sans","fontSize":41,"align":"right","baseline":"alphabetic","color":"#33302e"},"encoding":{"x":{"datum":{"year":2020,"month":3,"date":15,"hours":2330,"utc":true},"type":"temporal"},"y":{"datum":6348,"type":"quantitative"}}},
{"data":{"values":[{}]},"mark":{"type":"text","text":"4,815","font":"DejaVu Sans","fontSize":58,"fontWeight":"bold","align":"right","baseline":"alphabetic","color":"#262a33"},"encoding":{"x":{"datum":{"year":2020,"month":3,"date":15,"hours":2330,"utc":true},"type":"temporal"},"y":{"datum":6082,"type":"quantitative"}}},
{"data":{"values":[{}]},"mark":{"type":"text","text":"Latin America","font":"DejaVu Sans","fontSize":39,"fontWeight":"bold","align":"right","baseline":"alphabetic","color":"#262a33"},"encoding":{"x":{"datum":{"year":2020,"month":3,"date":15,"hours":1447,"utc":true},"type":"temporal"},"y":{"datum":6553,"type":"quantitative"}}},
{"data":{"values":[{}]},"mark":{"type":"text","text":"now accounts for","font":"DejaVu Sans","fontSize":41,"align":"right","baseline":"alphabetic","color":"#33302e"},"encoding":{"x":{"datum":{"year":2020,"month":3,"date":15,"hours":1674,"utc":true},"type":"temporal"},"y":{"datum":6553,"type":"quantitative"}}},
{"data":{"values":[{}]},"mark":{"type":"text","text":"48 per cent","font":"DejaVu Sans","fontSize":39,"fontWeight":"bold","align":"right","baseline":"alphabetic","color":"#262a33"},"encoding":{"x":{"datum":{"year":2020,"month":3,"date":15,"hours":1340,"utc":true},"type":"temporal"},"y":{"datum":6340,"type":"quantitative"}}},
{"data":{"values":[{}]},"mark":{"type":"text","text":"of average global deaths","font":"DejaVu Sans","fontSize":41,"align":"right","baseline":"alphabetic","color":"#33302e"},"encoding":{"x":{"datum":{"year":2020,"month":3,"date":15,"hours":1674,"utc":true},"type":"temporal"},"y":{"datum":6340,"type":"quantitative"}}},
{"data":{"values":[{}]},"mark":{"type":"text","text":"The","font":"DejaVu Sans","fontSize":41,"align":"right","baseline":"alphabetic","color":"#33302e"},"encoding":{"x":{"datum":{"year":2020,"month":3,"date":15,"hours":1616,"utc":true},"type":"temporal"},"y":{"datum":527,"type":"quantitative"}}},
{"data":{"values":[{}]},"mark":{"type":"text","text":"US","font":"DejaVu Sans","fontSize":39,"fontWeight":"bold","align":"right","baseline":"alphabetic","color":"#262a33"},"encoding":{"x":{"datum":{"year":2020,"month":3,"date":15,"hours":1662,"utc":true},"type":"temporal"},"y":{"datum":527,"type":"quantitative"}}},
{"data":{"values":[{}]},"mark":{"type":"text","text":"share of average","font":"DejaVu Sans","fontSize":41,"align":"right","baseline":"alphabetic","color":"#33302e"},"encoding":{"x":{"datum":{"year":2020,"month":3,"date":15,"hours":1888,"utc":true},"type":"temporal"},"y":{"datum":527,"type":"quantitative"}}},
{"data":{"values":[{}]},"mark":{"type":"text","text":"global daily deaths has","font":"DejaVu Sans","fontSize":41,"align":"right","baseline":"alphabetic","color":"#33302e"},"encoding":{"x":{"datum":{"year":2020,"month":3,"date":15,"hours":1888,"utc":true},"type":"temporal"},"y":{"datum":315,"type":"quantitative"}}},
{"data":{"values":[{}]},"mark":{"type":"text","text":"fallen to","font":"DejaVu Sans","fontSize":41,"align":"right","baseline":"alphabetic","color":"#33302e"},"encoding":{"x":{"datum":{"year":2020,"month":3,"date":15,"hours":1720,"utc":true},"type":"temporal"},"y":{"datum":110,"type":"quantitative"}}},
{"data":{"values":[{}]},"mark":{"type":"text","text":"12 per cent","font":"DejaVu Sans","fontSize":39,"fontWeight":"bold","align":"right","baseline":"alphabetic","color":"#262a33"},"encoding":{"x":{"datum":{"year":2020,"month":3,"date":15,"hours":1888,"utc":true},"type":"temporal"},"y":{"datum":110,"type":"quantitative"}}},
{"data":{"values":[{}]},"mark":{"type":"text","text":"Mexico","font":"DejaVu Sans","fontSize":42,"align":"center","baseline":"middle","color":"#fbe3ec"},"encoding":{"x":{"datum":{"year":2020,"month":3,"date":15,"hours":2004,"utc":true},"type":"temporal"},"y":{"datum":5224,"type":"quantitative"}}},
{"data":{"values":[{}]},"mark":{"type":"text","text":"Brazil","font":"DejaVu Sans","fontSize":42,"align":"center","baseline":"middle","color":"#f6d2de"},"encoding":{"x":{"datum":{"year":2020,"month":3,"date":15,"hours":2011,"utc":true},"type":"temporal"},"y":{"datum":4529,"type":"quantitative"}}},
{"data":{"values":[{}]},"mark":{"type":"text","text":["LatAm total","Jun 15-21"],"lineHeight":52,"font":"DejaVu Sans","fontSize":42,"align":"right","baseline":"alphabetic","color":"#f9dce6"},"encoding":{"x":{"datum":{"year":2020,"month":3,"date":15,"hours":2313,"utc":true},"type":"temporal"},"y":{"datum":4651,"type":"quantitative"}}},
{"data":{"values":[{}]},"mark":{"type":"text","text":"2,304","font":"DejaVu Sans","fontSize":42,"fontWeight":"bold","align":"right","baseline":"alphabetic","color":"#fdf0f4"},"encoding":{"x":{"datum":{"year":2020,"month":3,"date":15,"hours":2313,"utc":true},"type":"temporal"},"y":{"datum":4252,"type":"quantitative"}}},
{"data":{"values":[{}]},"mark":{"type":"text","text":["Rest of","Latin America"],"lineHeight":49,"font":"DejaVu Sans","fontSize":42,"align":"right","baseline":"alphabetic","color":"#fff0f4"},"encoding":{"x":{"datum":{"year":2020,"month":3,"date":15,"hours":2318,"utc":true},"type":"temporal"},"y":{"datum":3853,"type":"quantitative"}}},
{"data":{"values":[{}]},"mark":{"type":"text","text":["US","Jun 15-21"],"lineHeight":52,"font":"DejaVu Sans","fontSize":42,"align":"right","baseline":"alphabetic","color":"#f4f1ee"},"encoding":{"x":{"datum":{"year":2020,"month":3,"date":15,"hours":2313,"utc":true},"type":"temporal"},"y":{"datum":3364,"type":"quantitative"}}},
{"data":{"values":[{}]},"mark":{"type":"text","text":"591","font":"DejaVu Sans","fontSize":42,"fontWeight":"bold","align":"right","baseline":"alphabetic","color":"#ffffff"},"encoding":{"x":{"datum":{"year":2020,"month":3,"date":15,"hours":2313,"utc":true},"type":"temporal"},"y":{"datum":2965,"type":"quantitative"}}},
{"data":{"values":[{}]},"mark":{"type":"text","text":"US","font":"DejaVu Sans","fontSize":42,"align":"center","baseline":"middle","color":"#f4f1ee"},"encoding":{"x":{"datum":{"year":2020,"month":3,"date":15,"hours":1382,"utc":true},"type":"temporal"},"y":{"datum":4074,"type":"quantitative"}}},
{"data":{"values":[{}]},"mark":{"type":"text","text":"Rest of N America*","font":"DejaVu Sans","fontSize":40,"align":"center","baseline":"middle","color":"#f5efe9"},"encoding":{"x":{"datum":{"year":2020,"month":3,"date":15,"hours":723,"utc":true},"type":"temporal"},"y":{"datum":4727,"type":"quantitative"}}},
{"data":{"values":[{}]},"mark":{"type":"text","text":"Russia","font":"DejaVu Sans","fontSize":42,"align":"center","baseline":"middle","color":"#cfe3f6"},"encoding":{"x":{"datum":{"year":2020,"month":3,"date":15,"hours":1992,"utc":true},"type":"temporal"},"y":{"datum":2589,"type":"quantitative"}}},
{"data":{"values":[{}]},"mark":{"type":"text","text":"UK","font":"DejaVu Sans","fontSize":42,"align":"center","baseline":"middle","color":"#cfe3f6"},"encoding":{"x":{"datum":{"year":2020,"month":3,"date":15,"hours":2015,"utc":true},"type":"temporal"},"y":{"datum":2354,"type":"quantitative"}}},
{"data":{"values":[{}]},"mark":{"type":"text","text":"Rest of Europe","font":"DejaVu Sans","fontSize":42,"align":"center","baseline":"middle","color":"#e6f2fb"},"encoding":{"x":{"datum":{"year":2020,"month":3,"date":15,"hours":1524,"utc":true},"type":"temporal"},"y":{"datum":1925,"type":"quantitative"}}},
{"data":{"values":[{}]},"mark":{"type":"text","text":"India","font":"DejaVu Sans","fontSize":42,"align":"center","baseline":"middle","color":"#fde3e6"},"encoding":{"x":{"datum":{"year":2020,"month":3,"date":15,"hours":2301,"utc":true},"type":"temporal"},"y":{"datum":1807,"type":"quantitative"}}},
{"data":{"values":[{}]},"mark":{"type":"text","text":"Mideast","font":"Lato","fontSize":46,"align":"center","baseline":"middle","color":"#3d5a1e"},"encoding":{"x":{"datum":{"year":2020,"month":3,"date":15,"hours":809,"utc":true},"type":"temporal"},"y":{"datum":246,"type":"quantitative"}}},
{"data":{"values":[{}]},"mark":{"type":"text","text":["Rest of","Asia"],"lineHeight":56,"font":"Lato","fontSize":44,"align":"right","baseline":"alphabetic","color":"#7a716b"},"encoding":{"x":{"datum":{"year":2020,"month":3,"date":15,"hours":2163,"utc":true},"type":"temporal"},"y":{"datum":649,"type":"quantitative"}}},
{"data":{"values":[{}]},"mark":{"type":"text","text":"Africa","font":"Lato","fontSize":44,"align":"right","baseline":"alphabetic","color":"#7a716b"},"encoding":{"x":{"datum":{"year":2020,"month":3,"date":15,"hours":2303,"utc":true},"type":"temporal"},"y":{"datum":748,"type":"quantitative"}}},
{"data":{"values":[{}]},"mark":{"type":"text","text":"* Canada, Bermuda, Greenland and St Pierre and Miquelon","font":"Lato","fontSize":40,"align":"right","baseline":"alphabetic","color":"#66605c"},"encoding":{"x":{"datum":{"year":2020,"month":3,"date":15,"hours":2439,"utc":true},"type":"temporal"},"y":{"datum":-616,"type":"quantitative"}}}
]
}
